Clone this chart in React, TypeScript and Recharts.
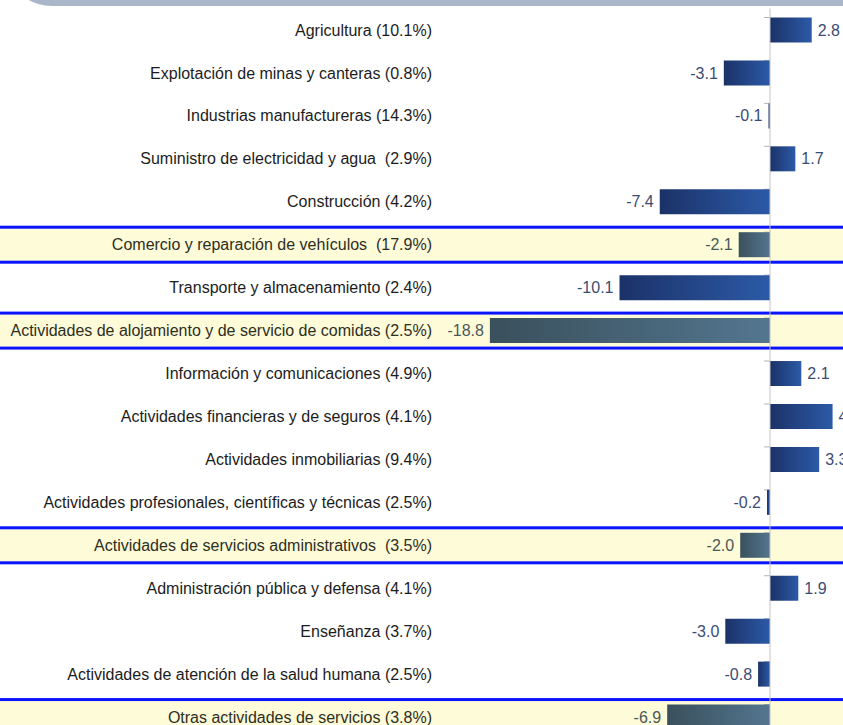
import React from 'react';
import { BarChart, Bar, XAxis, YAxis, ReferenceLine, LabelList, Cell } from 'recharts';

const categories: string[] = [
  'Agricultura (10.1%)',
  'Explotación de minas y canteras (0.8%)',
  'Industrias manufactureras (14.3%)',
  'Suministro de electricidad y agua  (2.9%)',
  'Construcción (4.2%)',
  'Comercio y reparación de vehículos  (17.9%)',
  'Transporte y almacenamiento (2.4%)',
  'Actividades de alojamiento y de servicio de comidas (2.5%)',
  'Información y comunicaciones (4.9%)',
  'Actividades financieras y de seguros (4.1%)',
  'Actividades inmobiliarias (9.4%)',
  'Actividades profesionales, científicas y técnicas (2.5%)',
  'Actividades de servicios administrativos  (3.5%)',
  'Administración pública y defensa (4.1%)',
  'Enseñanza (3.7%)',
  'Actividades de atención de la salud humana (2.5%)',
  'Otras actividades de servicios (3.8%)',
];

const growth: number[] = [2.8, -3.1, -0.1, 1.7, -7.4, -2.1, -10.1, -18.8, 2.1, 4.2, 3.3, -0.2, -2.0, 1.9, -3.0, -0.8, -6.9];

const highlighted: boolean[] = [
  false, false, false, false, false, true, false, true, false,
  false, false, false, true, false, false, false, true,
];

const DOMAIN: [number, number] = [-20, 6];

const data = categories.map((name, i) => ({ name, value: growth[i], hl: highlighted[i] }));

const BandBackground = (props: any) => {
  const { x, y, width, height, index } = props;
  const zeroX = x + (width * (0 - DOMAIN[0])) / (DOMAIN[1] - DOMAIN[0]);
  const hl = highlighted[index];
  return (
    <g>
      {hl && (
        <rect x={-20} y={y - 5} width={1000} height={height + 10} fill="#fdfbd8" stroke="#0a14ff" strokeWidth={3} />
      )}
      <line x1={zeroX - 6} x2={zeroX} y1={y} y2={y} stroke="#b4b4b4" strokeWidth={1} />
    </g>
  );
};

const CategoryTick = (props: any) => {
  const { x, y, payload } = props;
  const hl = highlighted[payload.index];
  return (
    <text
      x={x}
      y={y}
      dy="0.35em"
      textAnchor="end"
      fontSize={16}
      fill={hl ? '#2e2e1e' : '#1c1c1c'}
      style={{ whiteSpace: 'pre' }}
    >
      {payload.value}
    </text>
  );
};

const ValueLabel = (props: any) => {
  const { x, y, width, height, value, index } = props;
  const left = Math.min(x, x + width);
  const right = Math.max(x, x + width);
  const pos = Number(value) >= 0;
  const hl = highlighted[index];
  return (
    <text
      x={pos ? right + 6 : left - 6}
      y={y + height / 2}
      dy="0.35em"
      textAnchor={pos ? 'start' : 'end'}
      fontSize={16}
      fill={hl ? '#4b5858' : '#3b4c74'}
    >
      {Number(value).toFixed(1)}
    </text>
  );
};

export default function App() {
  return (
    <div
      style={{
        position: 'absolute',
        left: 0,
        top: 0,
        width: 843,
        height: 725,
        overflow: 'hidden',
        background: '#ffffff',
        fontFamily: '"Liberation Sans", Arial, sans-serif',
      }}
    >
      <BarChart
        width={900}
        height={745}
        data={data}
        layout="vertical"
        margin={{ top: 8.5, right: 40.6, left: 432, bottom: 6.5 }}
        barSize={25}
      >
        <defs>
          <linearGradient id="gradNormal" x1="0" y1="0" x2="1" y2="0">
            <stop offset="0%" stopColor="#1b3268" />
            <stop offset="100%" stopColor="#2c5aa7" />
          </linearGradient>
          <linearGradient id="gradHl" x1="0" y1="0" x2="1" y2="0">
            <stop offset="0%" stopColor="#3a505c" />
            <stop offset="100%" stopColor="#53768f" />
          </linearGradient>
        </defs>
        <XAxis type="number" domain={DOMAIN} hide allowDataOverflow />
        <YAxis
          type="category"
          dataKey="name"
          width={40}
          axisLine={false}
          tickLine={false}
          tickSize={0}
          tickMargin={40}
          interval={0}
          tick={<CategoryTick />}
        />
        <Bar dataKey="value" isAnimationActive={false} background={<BandBackground />}>
          {data.map((d, i) => (
            <Cell key={i} fill={d.hl ? 'url(#gradHl)' : 'url(#gradNormal)'} />
          ))}
          <LabelList dataKey="value" content={<ValueLabel />} />
        </Bar>
        <ReferenceLine x={0} stroke="#c4c4c4" strokeWidth={1} />
      </BarChart>
      <div
        style={{
          position: 'absolute',
          left: 18,
          top: -20,
          width: 900,
          height: 26,
          background: '#a9b6ca',
          borderBottomLeftRadius: '34px 22px',
        }}
      />
    </div>
  );
}
